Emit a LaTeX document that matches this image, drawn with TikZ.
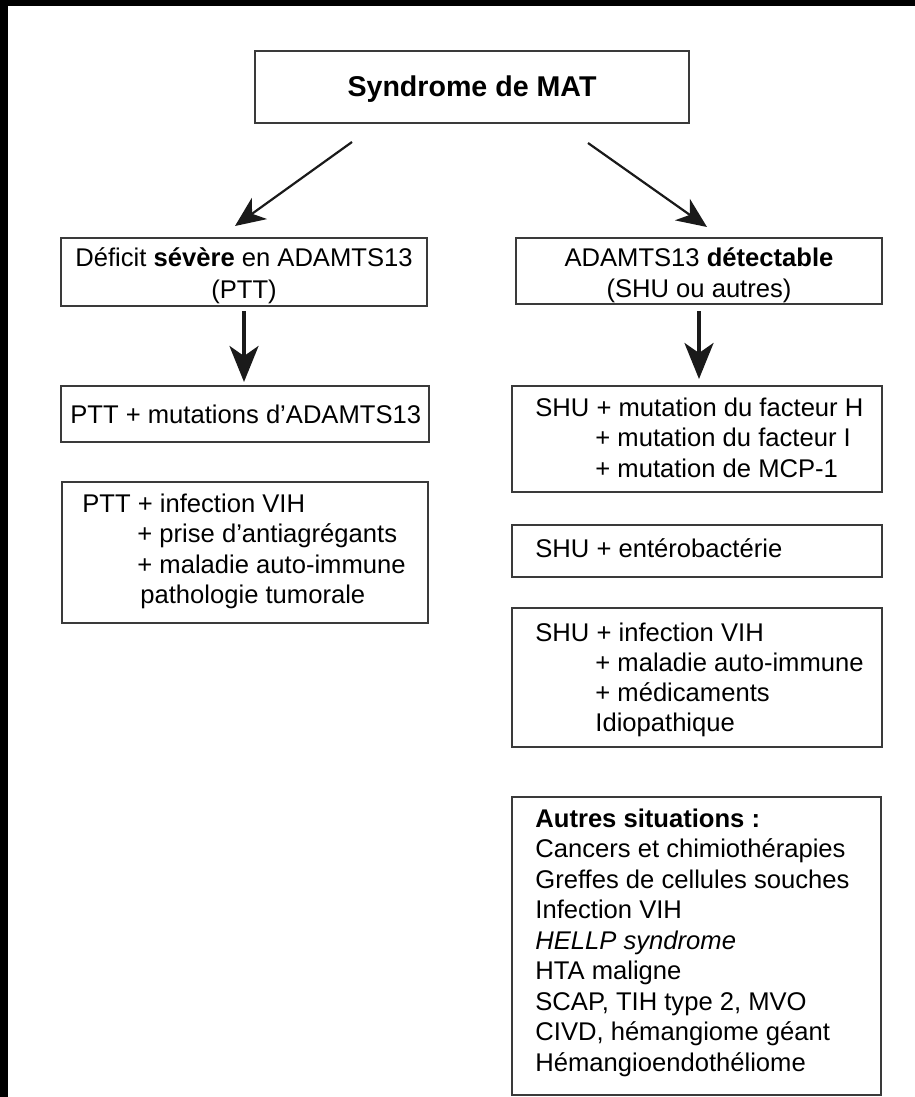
\documentclass[tikz,border=0pt]{standalone}
\usepackage{fontspec}
\setmainfont{Liberation Sans}
\usetikzlibrary{arrows.meta,fit,calc}
\definecolor{boxc}{HTML}{3A3A3A}
\definecolor{arrc}{HTML}{1A1A1A}
\begin{document}
\begin{tikzpicture}[x=0.5pt,y=-0.5pt,
  box/.style={draw=boxc, line width=1pt, inner sep=0pt, rectangle},
  txt/.style={anchor=base west, inner sep=0pt, font=\fontsize{12.8pt}{15.25pt}\selectfont},
  ctxt/.style={anchor=base, inner sep=0pt, font=\fontsize{12.8pt}{15.25pt}\selectfont},
  diag/.style={draw=arrc, line width=1.1pt, -{Stealth[length=15pt,width=13pt,inset=4.5pt]}},
  down/.style={draw=arrc, line width=1.8pt, -{Stealth[length=18pt,width=14.5pt,inset=5pt]}}]
\useasboundingbox (0,0) rectangle (915,1097);
\fill[black] (0,0) rectangle (915,1097);
\fill[white] (8,6) rectangle (915,1097);

% boxes
\node[box, fit={(255,51) (689,123)}] (top) {};
\node[box, fit={(61,238) (427,306)}] (L1) {};
\node[box, fit={(61,386) (429,442)}] (L2) {};
\node[box, fit={(62,482) (428,623)}] (L3) {};
\node[box, fit={(516,238) (882,304)}] (R1) {};
\node[box, fit={(512,386) (882,492)}] (R2) {};
\node[box, fit={(512,525) (882,577)}] (R3) {};
\node[box, fit={(512,608) (882,747)}] (R4) {};
\node[box, fit={(512,797) (881,1095)}] (R5) {};

% title
\node[anchor=base, inner sep=0pt, font=\fontsize{14.3pt}{17pt}\selectfont\bfseries] (title) at (472,97) {Syndrome de MAT};

% left column
\node[ctxt] (l1a) at (244,266) {Déficit \textbf{sévère} en ADAMTS13};
\node[ctxt] (l1b) at (244,298) {(PTT)};
\node[txt] (l2a) at (70,423) {PTT + mutations d’ADAMTS13};
\node[txt] (l3a) at (82,512) {PTT + infection VIH};
\node[txt] (l3b) at (137,542.5) {+ prise d’antiagrégants};
\node[txt] (l3c) at (137,573) {+ maladie auto-immune};
\node[txt] (l3d) at (140,603.5) {pathologie tumorale};

% right column
\node[ctxt] (r1a) at (699,266) {ADAMTS13 \textbf{détectable}};
\node[ctxt] (r1b) at (699,297) {(SHU ou autres)};
\node[txt] (r2a) at (535,416) {SHU + mutation du facteur H};
\node[txt] (r2b) at (595,446.5) {+ mutation du facteur I};
\node[txt] (r2c) at (595,477) {+ mutation de MCP-1};
\node[txt] (r3a) at (535,557) {SHU + entérobactérie};
\node[txt] (r4a) at (535,641) {SHU + infection VIH};
\node[txt] (r4b) at (595,671) {+ maladie auto-immune};
\node[txt] (r4c) at (595,701) {+ médicaments};
\node[txt] (r4d) at (595,731) {Idiopathique};
\node[txt] (r5a) at (535,827) {\textbf{Autres situations :}};
\node[txt] (r5b) at (535,857.5) {Cancers et chimiothérapies};
\node[txt] (r5c) at (535,888) {Greffes de cellules souches};
\node[txt] (r5d) at (535,918.5) {Infection VIH};
\node[txt] (r5e) at (535,949) {\textit{HELLP syndrome}};
\node[txt] (r5f) at (535,979.5) {HTA maligne};
\node[txt] (r5g) at (535,1010) {SCAP, TIH type 2, MVO};
\node[txt] (r5h) at (535,1040.5) {CIVD, hémangiome géant};
\node[txt] (r5i) at (535,1071) {Hémangioendothéliome};

% connectors
\draw[diag] ([xshift=-60pt,yshift=-9pt]top.south) -- ([xshift=-4.5pt,yshift=5.5pt]L1.north);
\draw[diag] ([xshift=58pt,yshift=-9.5pt]top.south) -- ([xshift=4pt,yshift=5pt]R1.north);
\draw[down] ([yshift=-2pt]L1.south) -- ([yshift=1.5pt]L1.south |- L2.north);
\draw[down] ([yshift=-3pt]R1.south) -- ([yshift=3pt]R1.south |- R2.north);
\end{tikzpicture}
\end{document}
